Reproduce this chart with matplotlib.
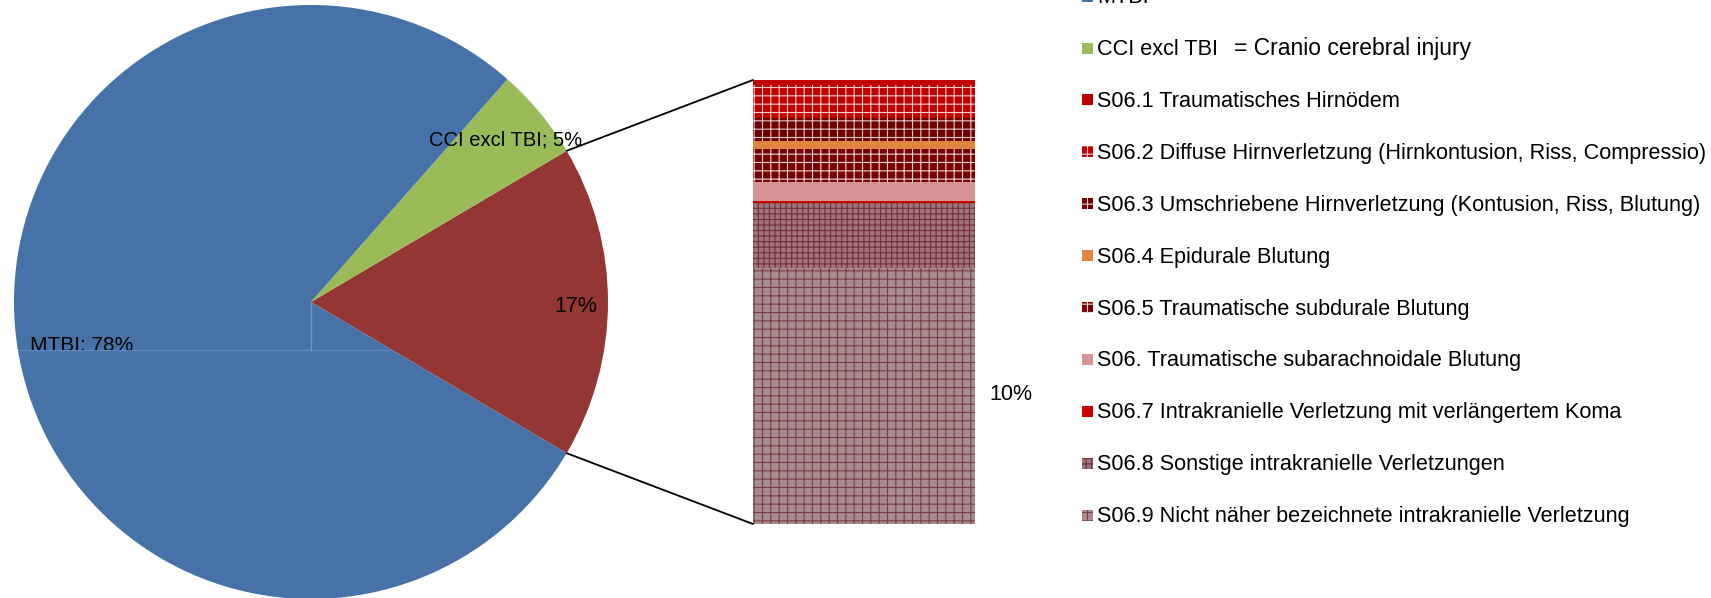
import matplotlib
matplotlib.use("Agg")
import numpy as np
from matplotlib import pyplot as plt
from matplotlib.patches import ConnectionPatch, Rectangle
from matplotlib.transforms import Bbox, TransformedBbox

# main pie
pie_labels = ["17%", "CCI excl TBI; 5%", "MTBI; 78%"]
pie_values = [17, 5, 78]
pie_colors = ["#943734", "#9BBB59", "#4672A7"]

# breakdown of the 17% slice (percent of total), top to bottom
sub_labels = [
    "S06.1 Traumatisches Hirnödem",
    "S06.2 Diffuse Hirnverletzung (Hirnkontusion, Riss, Compressio)",
    "S06.3 Umschriebene Hirnverletzung (Kontusion, Riss, Blutung)",
    "S06.4 Epidurale Blutung",
    "S06.5 Traumatische subdurale Blutung",
    "S06. Traumatische subarachnoidale Blutung",
    "S06.7 Intrakranielle Verletzung mit verlängertem Koma",
    "S06.8 Sonstige intrakranielle Verletzungen",
    "S06.9 Nicht näher bezeichnete intrakranielle Verletzung",
]
sub_values = [0.2, 1.25, 0.9, 0.3, 1.25, 0.75, 0.05, 2.5, 9.8]

# (face colour, hatch, hatch colour)
sub_styles = [
    ("#C00000", None, None),
    ("#C00000", "++", "#F4D0D0"),
    ("#6E0000", "++", "#E8C8C8"),
    ("#E0853F", None, None),
    ("#780000", "++", "#F0D8D8"),
    ("#D69494", None, None),
    ("#CC0000", None, None),
    ("#A0747A", "+++", "#74303A"),
    ("#A88B8E", "++", "#7A3E46"),
]

W, H = 1711, 598
FONT = ["Liberation Sans", "DejaVu Sans"]
plt.rcParams["hatch.linewidth"] = 0.8


def fx(px):
    return px / W


def fy(py):
    return 1 - py / H


fig = plt.figure(figsize=(W / 100, H / 100), dpi=100)

# pie: centre (311, 302) px, radius 297 px
cx, cy, r = 311, 302, 297
ax_pie = fig.add_axes([fx(cx - r), fy(cy + r), 2 * r / W, 2 * r / H])
start = -pie_values[0] * 3.6 / 2
wedges, _ = ax_pie.pie(pie_values, colors=pie_colors, startangle=start,
                       counterclock=True, radius=1,
                       wedgeprops=dict(linewidth=0))
ax_pie.set_xlim(-1, 1)
ax_pie.set_ylim(-1, 1)
ax_pie.set_aspect("equal")
ax_pie.axis("off")

# faint rendering seams visible in the blue slice
seam_y = -(350 - cy) / r
for ln in ax_pie.plot([-1, 0.3], [seam_y, seam_y], color="#5F89BC", lw=1) + \
        ax_pie.plot([0, 0], [0, seam_y], color="#6B93C4", lw=1):
    ln.set_clip_path(wedges[2])

# stacked bar for the breakdown
bx0, bx1, by0, by1 = 753, 975, 80, 524
ax_bar = fig.add_axes([fx(bx0), fy(by1), (bx1 - bx0) / W, (by1 - by0) / H])
total = sum(sub_values)
bottom = 0.0
for val, (face, hatch, hcol) in zip(sub_values[::-1], sub_styles[::-1]):
    ax_bar.bar(0.5, val, width=1, bottom=bottom, color=face, linewidth=0)
    if hatch:
        ax_bar.bar(0.5, val, width=1, bottom=bottom, facecolor="none",
                   edgecolor=hcol, hatch=hatch, linewidth=0)
    bottom += val
ax_bar.set_xlim(0, 1)
ax_bar.set_ylim(0, total)
ax_bar.axis("off")

# connector lines
for ang, yb in [(start + pie_values[0] * 3.6, total), (start, 0)]:
    t = np.deg2rad(ang)
    con = ConnectionPatch(xyA=(np.cos(t), np.sin(t)), coordsA=ax_pie.transData,
                          xyB=(0, yb), coordsB=ax_bar.transData,
                          color="black", lw=1.3)
    fig.add_artist(con)

# data labels
fig.text(fx(554), fy(306), pie_labels[0], fontsize=15.5, family=FONT,
         va="center", ha="left")
fig.text(fx(429), fy(140), pie_labels[1], fontsize=14.5, family=FONT,
         va="center", ha="left")
mt = fig.text(fx(30), fy(345), pie_labels[2], fontsize=15, family=FONT,
              va="center", ha="left")
mt.set_clip_box(TransformedBbox(Bbox([[0, fy(350)], [1, 1]]), fig.transFigure))
fig.text(fx(989), fy(395), f"{sub_values[-1]:.0f}%", fontsize=15.5,
         family=FONT, va="center", ha="left")

# legend, drawn by hand (first row is cut off at the top edge)
leg_labels = ["MTBI", "CCI excl TBI"] + sub_labels
leg_colors = [pie_colors[2], pie_colors[1]] + sub_styles
step = 51.9
base0 = 55 - step
for i, lab in enumerate(leg_labels):
    base = base0 + i * step
    mid = base - 7
    st = leg_colors[i]
    face, hatch, hcol = (st, None, None) if isinstance(st, str) else st
    rect = Rectangle((fx(1082), fy(mid + 5.5)), 11 / W, 11 / H,
                     transform=fig.transFigure, facecolor=face, linewidth=0)
    fig.add_artist(rect)
    if hatch:
        fig.add_artist(Rectangle((fx(1082), fy(mid + 5.5)), 11 / W, 11 / H,
                                 transform=fig.transFigure, facecolor="none",
                                 edgecolor=hcol, hatch=hatch, linewidth=0))
    fig.text(fx(1097), fy(base), lab, fontsize=15.6, family=FONT,
             va="baseline", ha="left")
fig.text(fx(1234), fy(base0 + step), "= Cranio cerebral injury", fontsize=16.5,
         family=FONT, va="baseline", ha="left")

fig.savefig("out.png", dpi=100)
